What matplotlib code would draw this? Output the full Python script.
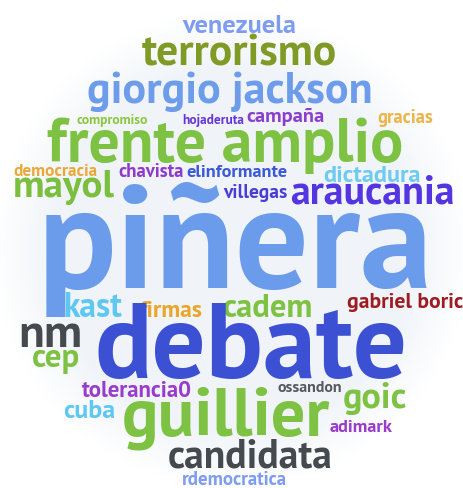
import numpy as np
import matplotlib
matplotlib.use("Agg")
import matplotlib.pyplot as plt

# ---- data ----
words = ["venezuela", "terrorismo", "giorgio jackson", "compromiso", "hojaderuta",
         "campaña", "gracias", "frente amplio", "democracia", "chavista",
         "elinformante", "dictadura", "mayol", "villegas", "araucania",
         "piñera", "kast", "firmas", "cadem", "gabriel boric",
         "nm", "debate", "cep", "tolerancia0", "ossandon",
         "goic", "cuba", "guillier", "adimark", "candidata", "rdemocratica"]
colors = ["#7e9cf0", "#7f9a25", "#6d9ceb", "#8cc63f", "#6637d6",
          "#8b3fcb", "#eab54a", "#7dc242", "#e9a93a", "#8e3cc8",
          "#3d5ad6", "#6fcbee", "#7bbf3e", "#4a3dd4", "#5535e0",
          "#6b9beb", "#5ec8f2", "#eaa62a", "#7dc242", "#9e1b22",
          "#454a4f", "#3b50d2", "#7dc242", "#9a3ccb", "#555a5f",
          "#7dc242", "#5ec8f2", "#7dc242", "#9a3ccb", "#454a4f", "#7e9cf0"]

# ---- layout (pixel space): left x, right x, baseline y ----
x_left = [182, 142, 87, 77, 182, 247, 377, 47, 13, 118,
          186, 323, 13, 223, 290, 38, 63, 140, 223, 347,
          18, 95, 32, 82, 278, 343, 63, 122, 330, 168, 182]
x_right = [296, 337, 372, 148, 244, 325, 433, 403, 97, 184,
           287, 421, 115, 287, 455, 433, 122, 203, 313, 463,
           82, 408, 80, 192, 342, 407, 115, 330, 393, 333, 287]
baseline = [33, 65, 103, 124, 124, 122, 123, 162, 176, 177,
            177, 182, 197, 198, 203, 288, 317, 317, 317, 308,
            347, 378, 367, 397, 392, 408, 418, 435, 432, 467, 485]

W, H = 464, 489
fig = plt.figure(figsize=(W / 100, H / 100), dpi=100)
ax = fig.add_axes([0, 0, 1, 1])
ax.set_xlim(0, W)
ax.set_ylim(H, 0)
ax.axis("off")

# background: very soft pale circle
yy, xx = np.mgrid[0:H, 0:W]
r = np.hypot(xx - 232, yy - 250)
f = np.clip((238 - r) / 55.0, 0, 1)
base = np.array([1.0, 1.0, 1.0])
tint = np.array([0.945, 0.96, 0.977])
img = base[None, None, :] * (1 - f[..., None]) + tint[None, None, :] * f[..., None]
ax.imshow(img, extent=(0, W, H, 0), zorder=0, interpolation="bilinear")

renderer = fig.canvas.get_renderer()
font = dict(family=["PT Sans", "DejaVu Sans"], weight="bold")
for w, c, xl, xr, yb in zip(words, colors, x_left, x_right, baseline):
    t = ax.text((xl + xr) / 2, yb, w, color=c, fontsize=100, ha="center",
                va="baseline", zorder=2, **font)
    ext = t.get_window_extent(renderer)
    t.set_fontsize(100 * (xr - xl) / ext.width)

fig.savefig("out.png", dpi=100)
